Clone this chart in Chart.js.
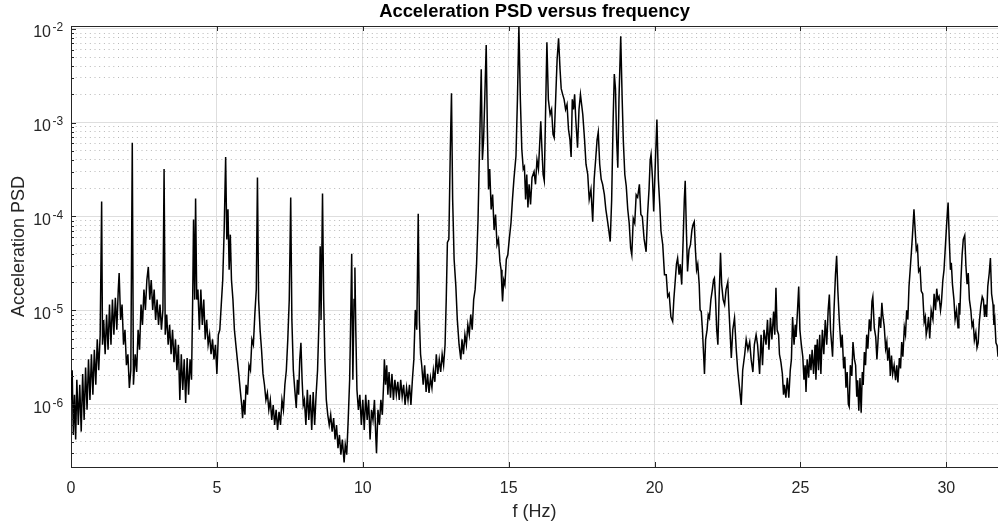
<!DOCTYPE html>
<html>
<head>
<meta charset="utf-8">
<title>Acceleration PSD versus frequency</title>
<script src="https://cdn.jsdelivr.net/npm/chart.js@4.4.0/dist/chart.umd.min.js"></script>
<style>
  html, body { margin: 0; padding: 0; background: #fff; overflow: hidden; }
</style>
</head>
<body>
<canvas id="psdChart" width="998" height="530"></canvas>
<script>
// frequency (Hz) and PSD
const freqHz = [
  0.00, 0.04, 0.08, 0.12, 0.16, 0.20, 0.25, 0.30, 0.35, 0.40,
  0.45, 0.50, 0.55, 0.60, 0.65, 0.70, 0.75, 0.80, 0.85, 0.90,
  0.95, 1.00, 1.05, 1.08, 1.12, 1.17, 1.22, 1.27, 1.32, 1.37,
  1.42, 1.47, 1.52, 1.57, 1.62, 1.65, 1.70, 1.75, 1.80, 1.85,
  1.90, 1.95, 2.00, 2.05, 2.10, 2.14, 2.20, 2.25, 2.30, 2.35,
  2.40, 2.45, 2.50, 2.55, 2.60, 2.65, 2.70, 2.75, 2.80, 2.85,
  2.90, 2.95, 3.00, 3.05, 3.10, 3.15, 3.19, 3.23, 3.28, 3.33,
  3.38, 3.43, 3.48, 3.53, 3.58, 3.63, 3.68, 3.73, 3.78, 3.83,
  3.88, 3.93, 3.98, 4.03, 4.08, 4.13, 4.17, 4.20, 4.24, 4.27,
  4.31, 4.35, 4.40, 4.45, 4.50, 4.55, 4.60, 4.65, 4.70, 4.75,
  4.80, 4.85, 4.90, 4.95, 5.00, 5.05, 5.10, 5.15, 5.20, 5.25,
  5.30, 5.34, 5.38, 5.42, 5.46, 5.50, 5.55, 5.60, 5.65, 5.70,
  5.75, 5.80, 5.85, 5.88, 5.92, 5.96, 6.00, 6.05, 6.10, 6.15,
  6.20, 6.25, 6.30, 6.35, 6.39, 6.43, 6.48, 6.53, 6.58, 6.63,
  6.68, 6.73, 6.78, 6.83, 6.88, 6.93, 6.98, 7.03, 7.08, 7.13,
  7.18, 7.23, 7.28, 7.33, 7.38, 7.43, 7.48, 7.53, 7.57, 7.62,
  7.67, 7.72, 7.76, 7.80, 7.84, 7.88, 7.92, 7.96, 8.00, 8.05,
  8.10, 8.15, 8.20, 8.25, 8.30, 8.35, 8.40, 8.45, 8.50, 8.54,
  8.57, 8.62, 8.66, 8.70, 8.75, 8.80, 8.85, 8.90, 8.95, 9.00,
  9.05, 9.10, 9.15, 9.20, 9.25, 9.30, 9.36, 9.40, 9.45, 9.50,
  9.55, 9.58, 9.62, 9.66, 9.70, 9.73, 9.76, 9.80, 9.85, 9.90,
  9.95, 10.00, 10.05, 10.10, 10.15, 10.20, 10.25, 10.30, 10.35, 10.40,
  10.45, 10.47, 10.52, 10.57, 10.62, 10.67, 10.72, 10.74, 10.78, 10.82,
  10.86, 10.90, 10.95, 11.00, 11.05, 11.10, 11.15, 11.20, 11.25, 11.30,
  11.35, 11.40, 11.45, 11.50, 11.55, 11.60, 11.65, 11.70, 11.75, 11.80,
  11.85, 11.90, 11.94, 11.98, 12.02, 12.07, 12.12, 12.17, 12.22, 12.27,
  12.32, 12.37, 12.42, 12.47, 12.52, 12.57, 12.62, 12.67, 12.72, 12.77,
  12.82, 12.86, 12.90, 12.95, 13.00, 13.04, 13.08, 13.13, 13.19, 13.24,
  13.30, 13.36, 13.40, 13.45, 13.50, 13.55, 13.60, 13.65, 13.70, 13.75,
  13.80, 13.85, 13.90, 13.95, 14.00, 14.06, 14.10, 14.14, 14.18, 14.23,
  14.27, 14.31, 14.35, 14.40, 14.45, 14.50, 14.55, 14.60, 14.65, 14.70,
  14.74, 14.77, 14.79, 14.83, 14.87, 14.92, 14.97, 15.02, 15.08, 15.13,
  15.18, 15.25, 15.30, 15.35, 15.40, 15.45, 15.50, 15.54, 15.58, 15.62,
  15.66, 15.70, 15.75, 15.80, 15.87, 15.92, 15.97, 16.02, 16.07, 16.10,
  16.14, 16.18, 16.22, 16.26, 16.31, 16.36, 16.42, 16.47, 16.52, 16.56,
  16.61, 16.66, 16.71, 16.76, 16.80, 16.85, 16.90, 16.95, 17.00, 17.05,
  17.10, 17.14, 17.18, 17.22, 17.26, 17.30, 17.36, 17.41, 17.46, 17.50,
  17.54, 17.60, 17.65, 17.71, 17.76, 17.82, 17.88, 17.93, 17.98, 18.03,
  18.07, 18.12, 18.17, 18.22, 18.28, 18.33, 18.38, 18.43, 18.48, 18.53,
  18.58, 18.62, 18.66, 18.70, 18.74, 18.78, 18.84, 18.89, 18.93, 18.98,
  19.03, 19.08, 19.13, 19.18, 19.22, 19.27, 19.32, 19.37, 19.42, 19.48,
  19.53, 19.58, 19.64, 19.71, 19.76, 19.81, 19.85, 19.88, 19.93, 19.97,
  20.02, 20.08, 20.13, 20.18, 20.22, 20.28, 20.34, 20.40, 20.45, 20.50,
  20.56, 20.62, 20.66, 20.71, 20.75, 20.79, 20.84, 20.88, 20.93, 20.98,
  21.02, 21.05, 21.09, 21.13, 21.18, 21.23, 21.28, 21.32, 21.36, 21.40,
  21.44, 21.48, 21.53, 21.56, 21.60, 21.64, 21.68, 21.71, 21.75, 21.80,
  21.84, 21.88, 21.93, 21.98, 22.02, 22.05, 22.09, 22.13, 22.17, 22.21,
  22.26, 22.30, 22.35, 22.40, 22.45, 22.51, 22.55, 22.60, 22.63, 22.68,
  22.74, 22.80, 22.85, 22.90, 22.97, 23.02, 23.09, 23.14, 23.20, 23.26,
  23.31, 23.37, 23.42, 23.48, 23.53, 23.60, 23.65, 23.70, 23.75, 23.82,
  23.87, 23.92, 23.97, 24.02, 24.08, 24.12, 24.16, 24.20, 24.25, 24.28,
  24.33, 24.38, 24.42, 24.45, 24.50, 24.55, 24.60, 24.65, 24.69, 24.73,
  24.78, 24.82, 24.85, 24.90, 24.94, 24.98, 25.03, 25.08, 25.12, 25.16,
  25.19, 25.23, 25.28, 25.32, 25.36, 25.40, 25.45, 25.50, 25.53, 25.58,
  25.62, 25.66, 25.70, 25.75, 25.80, 25.85, 25.90, 25.95, 25.99, 26.03,
  26.07, 26.10, 26.15, 26.20, 26.24, 26.28, 26.33, 26.39, 26.43, 26.48,
  26.52, 26.56, 26.60, 26.64, 26.67, 26.71, 26.76, 26.80, 26.85, 26.89,
  26.93, 26.96, 27.00, 27.04, 27.08, 27.12, 27.15, 27.19, 27.23, 27.27,
  27.31, 27.36, 27.41, 27.45, 27.48, 27.53, 27.58, 27.62, 27.65, 27.70,
  27.75, 27.79, 27.82, 27.87, 27.92, 27.96, 27.99, 28.04, 28.08, 28.12,
  28.16, 28.21, 28.26, 28.30, 28.34, 28.39, 28.43, 28.47, 28.51, 28.56,
  28.60, 28.64, 28.68, 28.72, 28.76, 28.80, 28.84, 28.89, 28.93, 28.97,
  29.01, 29.05, 29.10, 29.14, 29.19, 29.24, 29.28, 29.31, 29.35, 29.39,
  29.43, 29.48, 29.54, 29.58, 29.63, 29.67, 29.71, 29.75, 29.80, 29.83,
  29.88, 29.92, 29.94, 29.98, 30.02, 30.06, 30.10, 30.14, 30.17, 30.21,
  30.26, 30.30, 30.35, 30.40, 30.43, 30.46, 30.50, 30.54, 30.58, 30.63,
  30.67, 30.71, 30.75, 30.79, 30.84, 30.88, 30.92, 30.96, 31.01, 31.05,
  31.09, 31.13, 31.18, 31.23, 31.27, 31.31, 31.34, 31.38, 31.42, 31.47,
  31.51, 31.55, 31.60, 31.63, 31.66, 31.70, 31.74, 31.77
];

const psd = [
  1.11e-6, 2.3e-6, 4.7e-7, 1.26e-6, 4.2e-7, 1.82e-6, 6.0e-7, 1.61e-6, 5.1e-7, 2.1e-6,
  6.8e-7, 2.45e-6, 8.7e-7, 3.0e-6, 1.11e-6, 3.4e-6, 1.26e-6, 3.8e-6, 1.61e-6, 4.9e-6,
  2.3e-6, 5.5e-6, 1.44e-4, 4.3e-6, 7.9e-6, 3.4e-6, 9.0e-6, 3.8e-6, 1.15e-5, 4.3e-6,
  1.3e-5, 5.5e-6, 1.36e-5, 6.2e-6, 1.66e-5, 2.5e-5, 7.9e-6, 1.15e-5, 4.3e-6, 6.2e-6,
  2.6e-6, 3.4e-6, 1.49e-6, 2.3e-6, 6.1e-4, 1.61e-6, 3.4e-6, 2.2e-6, 6.2e-6, 3.8e-6,
  1.15e-5, 7.0e-6, 1.66e-5, 1.01e-5, 2.1e-5, 2.9e-5, 1.3e-5, 2.1e-5, 1.01e-5, 1.66e-5,
  7.9e-6, 1.3e-5, 7.0e-6, 1.15e-5, 6.2e-6, 1.01e-5, 3.2e-4, 5.5e-6, 9.0e-6, 4.3e-6,
  7.0e-6, 3.4e-6, 6.2e-6, 2.8e-6, 4.9e-6, 2.3e-6, 4.3e-6, 1.11e-6, 3.4e-6, 1.42e-6,
  3.0e-6, 1.03e-6, 3.1e-6, 1.26e-6, 3.0e-6, 1.82e-6, 1.3e-5, 9.3e-5, 1.3e-5, 1.55e-4,
  1.3e-5, 1.66e-5, 6.2e-6, 1.66e-5, 7.0e-6, 1.3e-5, 4.9e-6, 7.9e-6, 4.3e-6, 5.5e-6,
  3.4e-6, 4.9e-6, 3.0e-6, 4.3e-6, 2.1e-6, 5.5e-6, 6.2e-6, 1.15e-5, 2.1e-5, 7.2e-5,
  4.3e-4, 5.7e-5, 1.19e-4, 2.7e-5, 6.4e-5, 2.1e-5, 1.3e-5, 6.2e-6, 4.3e-6, 3.0e-6,
  2.1e-6, 1.42e-6, 9.8e-7, 7.1e-7, 1.11e-6, 7.7e-7, 1.61e-6, 1.26e-6, 2.6e-6, 2.3e-6,
  4.9e-6, 4.3e-6, 9.0e-6, 1.66e-5, 2.6e-4, 1.3e-5, 6.2e-6, 3.8e-6, 2.1e-6, 1.61e-6,
  1.11e-6, 1.32e-6, 8.7e-7, 1.11e-6, 6.8e-7, 9.8e-7, 6.0e-7, 8.7e-7, 5.3e-7, 8.3e-7,
  6.0e-7, 1.11e-6, 8.7e-7, 1.61e-6, 2.3e-6, 4.9e-6, 1.3e-5, 1.59e-4, 7.9e-6, 2.3e-6,
  1.42e-6, 9.1e-7, 1.82e-6, 1.26e-6, 3.0e-6, 4.5e-6, 1.82e-6, 9.8e-7, 1.11e-6, 6.0e-7,
  1.42e-6, 6.8e-7, 1.26e-6, 5.3e-7, 1.35e-6, 6.0e-7, 1.26e-6, 2.3e-6, 7.9e-6, 4.8e-5,
  7.9e-6, 1.76e-4, 1.3e-5, 3.0e-6, 1.11e-6, 7.7e-7, 6.0e-7, 7.7e-7, 5.1e-7, 7.1e-7,
  4.2e-7, 6.0e-7, 3.4e-7, 4.7e-7, 2.9e-7, 4.2e-7, 2.4e-7, 3.7e-7, 2.9e-7, 6.8e-7,
  1.82e-6, 6.2e-6, 4.0e-5, 1.82e-6, 1.3e-5, 2.85e-5, 6.2e-6, 1.42e-6, 8.7e-7, 1.26e-6,
  6.0e-7, 1.11e-6, 5.3e-7, 1.26e-6, 6.8e-7, 1.11e-6, 4.2e-7, 8.7e-7, 6.8e-7, 1.11e-6,
  4.2e-7, 3.0e-7, 8.7e-7, 6.0e-7, 1.11e-6, 7.7e-7, 1.82e-6, 3.0e-6, 1.61e-6, 2.6e-6,
  1.26e-6, 2.2e-6, 1.17e-6, 2.1e-6, 1.11e-6, 1.82e-6, 1.26e-6, 1.73e-6, 1.11e-6, 1.82e-6,
  1.20e-6, 1.61e-6, 9.8e-7, 1.49e-6, 1.11e-6, 1.61e-6, 9.8e-7, 1.82e-6, 3.0e-6, 1.01e-5,
  6.2e-6, 1.07e-4, 7.9e-6, 3.4e-6, 2.6e-6, 1.61e-6, 2.6e-6, 1.35e-6, 2.1e-6, 1.32e-6,
  1.91e-6, 1.49e-6, 2.3e-6, 1.73e-6, 3.4e-6, 2.1e-6, 3.0e-6, 2.2e-6, 3.4e-6, 2.6e-6,
  4.3e-6, 1.3e-5, 5.3e-5, 5.7e-5, 5.2e-4, 2.05e-3, 1.52e-4, 3.5e-5, 1.79e-5, 7.9e-6,
  4.3e-6, 3.0e-6, 4.9e-6, 3.4e-6, 5.5e-6, 4.3e-6, 7.0e-6, 5.5e-6, 9.0e-6, 6.2e-6,
  1.3e-5, 1.66e-5, 3.1e-5, 9.3e-5, 5.2e-4, 3.7e-3, 4.0e-4, 6.6e-4, 1.77e-3, 6.7e-3,
  8.5e-4, 1.94e-4, 3.2e-4, 1.19e-4, 1.71e-4, 7.2e-5, 1.05e-4, 5.0e-5, 5.7e-5, 3.3e-5,
  2.7e-5, 1.66e-5, 1.24e-5, 2.1e-5, 1.88e-5, 3.5e-5, 3.9e-5, 5.7e-5, 8.6e-5, 1.52e-4,
  2.5e-4, 4.4e-4, 1.77e-3, 1.05e-2, 1.77e-3, 5.2e-4, 3.2e-4, 3.4e-4, 1.52e-4, 2.8e-4,
  1.25e-4, 2.2e-4, 1.34e-4, 2.6e-4, 3.0e-4, 2.2e-4, 4.0e-4, 3.2e-4, 6.6e-4, 1.03e-3,
  5.2e-4, 2.8e-4, 2.4e-4, 1.08e-3, 7.2e-3, 1.77e-3, 1.22e-3, 1.38e-3, 7.5e-4, 6.9e-4,
  1.77e-3, 4.7e-3, 7.9e-3, 3.7e-3, 2.3e-3, 2.0e-3, 1.77e-3, 1.38e-3, 1.56e-3, 8.5e-4,
  6.6e-4, 4.3e-4, 1.77e-3, 1.38e-3, 2.0e-3, 1.08e-3, 5.4e-4, 1.38e-3, 2.0e-3, 1.56e-3,
  1.22e-3, 6.6e-4, 3.6e-4, 2.8e-4, 1.52e-4, 1.94e-4, 8.8e-5, 2.5e-4, 4.0e-4, 6.6e-4,
  7.9e-4, 3.6e-4, 2.5e-4, 2.2e-4, 1.71e-4, 1.19e-4, 9.3e-5, 7.2e-5, 5.4e-5, 1.52e-4,
  1.08e-3, 3.3e-3, 2.3e-3, 6.6e-4, 3.3e-4, 1.77e-3, 8.3e-3, 1.77e-3, 6.3e-4, 2.8e-4,
  2.1e-4, 1.2e-4, 8.5e-5, 4.6e-5, 3.9e-5, 9.5e-5, 8.5e-5, 1.7e-4, 1.6e-4, 2.2e-4,
  1.05e-4, 1.0e-4, 5.8e-5, 4.2e-5, 1.05e-4, 1.94e-4, 4.0e-4, 4.6e-4, 2.5e-4, 1.13e-4,
  3.2e-4, 1.08e-3, 2.5e-4, 1.3e-4, 7.0e-5, 5.0e-5, 2.4e-5, 2.4e-5, 1.4e-5, 1.5e-5,
  8.5e-6, 7.6e-6, 1.3e-5, 2.1e-5, 3.1e-5, 3.6e-5, 2.4e-5, 3.1e-5, 1.88e-5, 5.7e-5,
  1.52e-4, 2.4e-4, 7.2e-5, 2.6e-5, 4.4e-5, 5.0e-5, 7.2e-5, 8.2e-5, 8.8e-5, 4.4e-5,
  2.7e-5, 3.1e-5, 1.88e-5, 1.01e-5, 9.7e-6, 6.2e-6, 3.4e-6, 2.1e-6, 4.9e-6, 6.2e-6,
  9.0e-6, 8.3e-6, 1.3e-5, 1.66e-5, 2.1e-5, 2.2e-5, 1.3e-5, 6.2e-6, 4.3e-6, 1.3e-5,
  4.1e-5, 1.88e-5, 1.3e-5, 1.15e-5, 1.66e-5, 2.0e-5, 1.01e-5, 4.9e-6, 3.1e-6, 6.2e-6,
  8.3e-6, 3.8e-6, 2.3e-6, 1.61e-6, 9.8e-7, 2.3e-6, 3.4e-6, 4.9e-6, 3.8e-6, 4.6e-6,
  3.0e-6, 2.2e-6, 4.3e-6, 5.5e-6, 4.3e-6, 2.1e-6, 5.5e-6, 2.6e-6, 6.2e-6, 4.3e-6,
  7.9e-6, 3.8e-6, 8.3e-6, 4.9e-6, 9.7e-6, 5.5e-6, 1.74e-5, 6.2e-6, 5.5e-6, 3.4e-6,
  2.8e-6, 2.1e-6, 1.26e-6, 1.61e-6, 1.17e-6, 1.91e-6, 1.17e-6, 2.3e-6, 3.0e-6, 8.5e-6,
  4.3e-6, 7.0e-6, 5.2e-6, 1.01e-5, 1.79e-5, 6.2e-6, 4.3e-6, 3.2e-6, 1.82e-6, 2.6e-6,
  1.35e-6, 3.0e-6, 1.91e-6, 3.4e-6, 2.3e-6, 3.8e-6, 2.1e-6, 4.3e-6, 1.82e-6, 4.9e-6,
  2.3e-6, 5.5e-6, 2.1e-6, 6.2e-6, 3.4e-6, 7.9e-6, 4.3e-6, 1.01e-5, 1.47e-5, 6.2e-6,
  4.3e-6, 3.2e-6, 1.01e-5, 2.4e-5, 3.8e-5, 1.66e-5, 7.9e-6, 4.0e-6, 5.5e-6, 2.4e-6,
  3.2e-6, 1.5e-6, 2.2e-6, 1.0e-6, 9.4e-7, 2.6e-6, 2.0e-6, 4.6e-6, 3.0e-6, 2.6e-6,
  1.2e-6, 1.8e-6, 8.5e-7, 1.9e-6, 8.1e-7, 2.2e-6, 1.6e-6, 3.6e-6, 2.6e-6, 5.5e-6,
  3.9e-6, 8.0e-6, 6.0e-6, 1.25e-5, 1.40e-5, 6.5e-6, 5.2e-6, 3.0e-6, 4.3e-6, 8.5e-6,
  6.5e-6, 1.2e-5, 9.0e-6, 6.8e-6, 3.9e-6, 4.6e-6, 2.9e-6, 4.0e-6, 2.0e-6, 3.3e-6,
  2.1e-6, 2.6e-6, 1.8e-6, 2.6e-6, 1.7e-6, 3.1e-6, 2.4e-6, 4.6e-6, 3.2e-6, 6.6e-6,
  5.5e-6, 1.0e-5, 8.0e-6, 1.8e-5, 2.7e-5, 4.1e-5, 6.4e-5, 1.19e-4, 7.2e-5, 4.4e-5,
  4.8e-5, 2.6e-5, 2.8e-5, 1.6e-5, 1.5e-5, 7.5e-6, 8.5e-6, 5.5e-6, 6.5e-6, 8.5e-6,
  5.0e-6, 1.0e-5, 8.0e-6, 1.5e-5, 1.0e-5, 1.7e-5, 1.3e-5, 1.4e-5, 1.0e-5, 1.2e-5,
  2.1e-5, 2.7e-5, 2.7e-5, 5.7e-5, 9.3e-5, 1.41e-4, 5.7e-5, 2.7e-5, 3.2e-5, 1.88e-5,
  1.3e-5, 8.0e-6, 1.0e-5, 6.5e-6, 1.2e-5, 9.0e-6, 2.1e-5, 3.9e-5, 5.7e-5, 6.3e-5,
  3.0e-5, 1.9e-5, 2.5e-5, 1.3e-5, 1.0e-5, 6.8e-6, 7.5e-6, 4.8e-6, 5.8e-6, 4.0e-6,
  4.5e-6, 7.5e-6, 1.1e-5, 1.4e-5, 1.3e-5, 8.5e-6, 1.15e-5, 8.5e-6, 1.8e-5, 2.5e-5,
  3.6e-5, 1.5e-5, 1.15e-5, 7.0e-6, 8.0e-6, 4.5e-6, 4.2e-6, 3.2e-6
];

// axis ticks
const xTicks = [0, 5, 10, 15, 20, 25, 30];
const yTicks = [1e-2, 1e-3, 1e-4, 1e-5, 1e-6];
const yTickExp = ['-2', '-3', '-4', '-5', '-6'];
const yMinorTicks = [
  9e-3, 8e-3, 7e-3, 6e-3, 5e-3, 4e-3, 3e-3, 2e-3,
  9e-4, 8e-4, 7e-4, 6e-4, 5e-4, 4e-4, 3e-4, 2e-4,
  9e-5, 8e-5, 7e-5, 6e-5, 5e-5, 4e-5, 3e-5, 2e-5,
  9e-6, 8e-6, 7e-6, 6e-6, 5e-6, 4e-6, 3e-6, 2e-6,
  9e-7, 8e-7, 7e-7, 6e-7, 5e-7, 4e-7, 3e-7
];

const xMin = 0, xMax = 31.77;
const yMin = 2.14e-7, yMax = 1.07e-2;

const FONT = '"Liberation Sans", Arial, Helvetica, sans-serif';
const AXIS_COLOR = '#262626';
Chart.defaults.font.family = FONT;
Chart.defaults.color = AXIS_COLOR;

// inward ticks (matlab style) and 10^n labels on the y axis
const axisDecor = {
  id: 'axisDecor',
  afterDraw(chart) {
    const ctx = chart.ctx;
    const area = chart.chartArea;
    const xs = chart.scales.x;
    const ys = chart.scales.y;
    ctx.save();
    ctx.strokeStyle = AXIS_COLOR;
    ctx.lineWidth = 1;
    ctx.beginPath();
    xTicks.forEach(function (v) {
      let px = Math.round(xs.getPixelForValue(v)) + 0.5;
      ctx.moveTo(px, area.bottom);
      ctx.lineTo(px, area.bottom - 5);
      ctx.moveTo(px, area.top);
      ctx.lineTo(px, area.top + 5);
    });
    yTicks.forEach(function (v) {
      let py = Math.round(ys.getPixelForValue(v)) + 0.5;
      ctx.moveTo(area.left, py);
      ctx.lineTo(area.left + 5, py);
    });
    yMinorTicks.forEach(function (v) {
      let py = Math.round(ys.getPixelForValue(v)) + 0.5;
      ctx.moveTo(area.left, py);
      ctx.lineTo(area.left + 3, py);
    });
    ctx.stroke();

    ctx.fillStyle = AXIS_COLOR;
    ctx.textBaseline = 'alphabetic';
    yTicks.forEach(function (v, i) {
      let py = ys.getPixelForValue(v);
      ctx.font = '16px ' + FONT;
      ctx.textAlign = 'right';
      ctx.fillText('10', 51, py + 8.5);
      ctx.font = '12px ' + FONT;
      ctx.textAlign = 'left';
      ctx.fillText(yTickExp[i], 52.5, py + 2.5);
    });
    ctx.restore();
  }
};

const points = freqHz.map(function (f, i) { return { x: f, y: psd[i] }; });

new Chart(document.getElementById('psdChart'), {
  type: 'line',
  data: {
    datasets: [{
      label: 'PSD',
      data: points,
      borderColor: '#000000',
      borderWidth: 1.5,
      pointRadius: 0,
      tension: 0,
      fill: false
    }]
  },
  options: {
    responsive: false,
    animation: false,
    parsing: false,
    layout: { padding: 0 },
    plugins: {
      legend: { display: false },
      tooltip: { enabled: false }
    },
    scales: {
      x: {
        type: 'linear',
        position: 'bottom',
        min: xMin,
        max: xMax,
        afterBuildTicks: function (scale) { scale.ticks = xTicks.map(function (v) { return { value: v }; }); },
        afterFit: function (scale) { scale.height = 63; },
        grid: { color: '#dedede', lineWidth: 1, drawTicks: false },
        border: { display: true, color: AXIS_COLOR, width: 1 },
        ticks: { font: { size: 16 }, color: AXIS_COLOR, padding: 12, maxRotation: 0 },
        title: { display: true, text: 'f (Hz)', font: { size: 18 }, color: AXIS_COLOR, padding: { top: 0, bottom: 7 } }
      },
      xTop: {
        type: 'linear',
        position: 'top',
        min: xMin,
        max: xMax,
        afterFit: function (scale) { scale.height = 26; },
        grid: { display: false, drawTicks: false },
        border: { display: true, color: AXIS_COLOR, width: 1 },
        ticks: { display: false },
        title: { display: true, text: 'Acceleration PSD versus frequency', font: { size: 18.4, weight: 'bold' }, color: '#000000', padding: { top: 0.5, bottom: 0 } }
      },
      y: {
        type: 'logarithmic',
        position: 'left',
        min: yMin,
        max: yMax,
        afterBuildTicks: function (scale) { scale.ticks = yTicks.map(function (v) { return { value: v }; }); },
        afterFit: function (scale) { scale.width = 71; },
        grid: { color: '#dedede', lineWidth: 1, drawTicks: false },
        border: { display: true, color: AXIS_COLOR, width: 1 },
        ticks: { display: false },
        title: { display: true, text: 'Acceleration PSD', font: { size: 18 }, color: AXIS_COLOR, padding: { top: 8, bottom: 0 } }
      },
      yMinor: {
        type: 'logarithmic',
        position: 'left',
        min: yMin,
        max: yMax,
        afterBuildTicks: function (scale) { scale.ticks = yMinorTicks.map(function (v) { return { value: v }; }); },
        afterFit: function (scale) { scale.width = 0; },
        grid: { color: '#b8b8b8', lineWidth: 1, drawTicks: false },
        border: { display: false, dash: [1, 3.7] },
        ticks: { display: false }
      }
    }
  },
  plugins: [axisDecor]
});
</script>
</body>
</html>
